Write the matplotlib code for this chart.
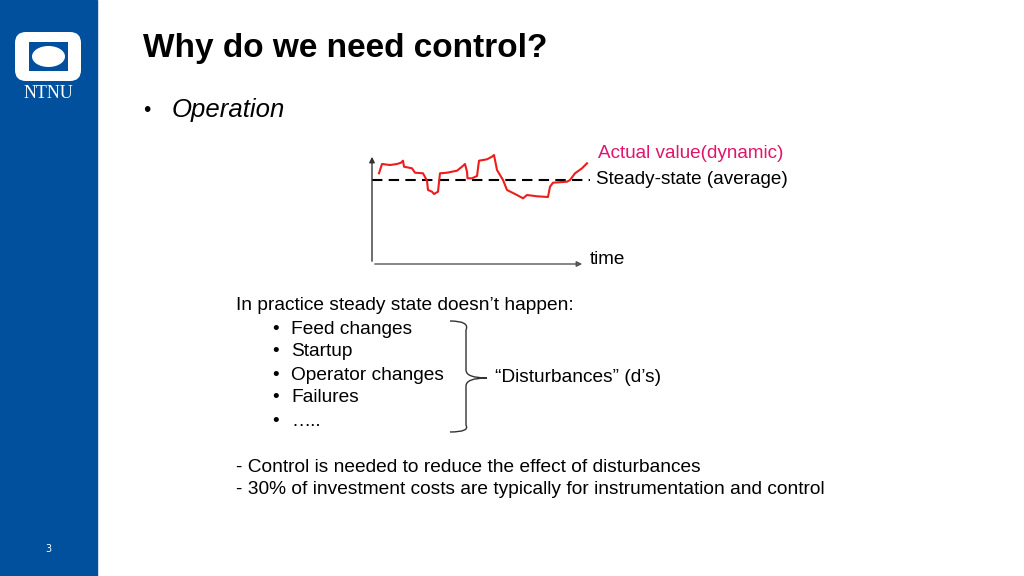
import matplotlib
matplotlib.use("Agg")
import matplotlib.pyplot as plt
from matplotlib.patches import Rectangle, FancyBboxPatch, Ellipse, PathPatch
from matplotlib.path import Path

# chart data (time units, value units)
time = [7, 10, 18, 25, 29, 31, 32, 40, 43, 51, 55, 56, 60, 62, 66, 68, 75, 85, 90, 93, 95,
        95.5, 100, 105, 107, 115, 120, 122, 125, 131, 135, 145, 151, 155, 165, 176, 178,
        181, 195, 198, 203, 210, 215]
actual = [90.7, 100, 99, 100, 101.3, 103.3, 97.3, 95.7, 91.3, 90.7, 83.3, 74, 72.3, 70,
          72.3, 90.7, 91.3, 93.3, 97.3, 100, 92.3, 85.7, 85.7, 88, 103.3, 104.7, 107.3, 109,
          94, 84, 74, 69, 65.7, 69, 67.7, 67, 77.3, 81.3, 82.3, 84, 90.7, 95.7, 100.7]
steady = 84
bullets = ["Feed changes", "Startup", "Operator changes", "Failures", "….."]

W, H = 1024, 576
fig = plt.figure(figsize=(10.24, 5.76), dpi=100)
bg = fig.add_axes([0, 0, 1, 1])
bg.set_xlim(0, W)
bg.set_ylim(H, 0)
bg.axis("off")

# sidebar + logo
blue = "#00509e"
bg.add_patch(Rectangle((0, 0), 97, H, color=blue))
bg.add_patch(FancyBboxPatch((15, 32), 66, 49, boxstyle="round,pad=0,rounding_size=11",
                            fc="white", ec="none"))
bg.add_patch(Rectangle((29, 42), 39, 29, fc=blue, ec="none"))
bg.add_patch(Ellipse((48.5, 56.5), 33, 21, fc="white", ec="none"))
bg.text(48, 93, "NTNU", color="white", fontsize=13, family="Liberation Serif",
        ha="center", va="center")
bg.text(48, 549, "3", color="white", fontsize=7, ha="center", va="center")

sans = "Liberation Sans"
bg.text(143, 49, "Why do we need control?", fontsize=24, fontweight="bold",
        family=sans, va="center")
bg.text(143, 110, "•", fontsize=15, family=sans, va="center")
bg.text(172, 110, "Operation", fontsize=18.5, style="italic", family=sans, va="center")

fs = 13.6
bg.text(598, 154, "Actual value(dynamic)", fontsize=fs, color="#e0156b", family=sans, va="center")
bg.text(596, 180, "Steady-state (average)", fontsize=fs, family=sans, va="center")
bg.text(590, 259, "time", fontsize=fs, family=sans, va="center")

fb = 13.8
bg.text(236, 306, "In practice steady state doesn\u2019t happen:", fontsize=fb, family=sans, va="center")
for i, b in enumerate(bullets):
    y = 329 + i * 23
    bg.text(272, y, "•", fontsize=fb, family=sans, va="center")
    bg.text(291, y, b, fontsize=fb, family=sans, va="center")
bg.text(495, 377, "\u201cDisturbances\u201d (d\u2019s)", fontsize=fb, family=sans, va="center")
bg.text(236, 467, "- Control is needed to reduce the effect of disturbances", fontsize=fb,
        family=sans, va="center")
bg.text(236, 490, "- 30% of investment costs are typically for instrumentation and control",
        fontsize=fb, family=sans, va="center")

# brace
verts = [(450, 321), (470, 321), (466, 330), (466, 370), (466, 378), (487, 378),
         (466, 378), (466, 386), (466, 425), (470, 432), (450, 432)]
codes = [Path.MOVETO, Path.CURVE3, Path.CURVE3, Path.LINETO, Path.CURVE3, Path.CURVE3,
         Path.CURVE3, Path.CURVE3, Path.LINETO, Path.CURVE3, Path.CURVE3]
bg.add_patch(PathPatch(Path(verts, codes), fc="none", ec="#333333", lw=1))

# chart
ax = fig.add_axes([372 / W, 1 - 264 / H, 220 / W, 112 / H])
ax.set_xlim(0, 220)
ax.set_ylim(0, 112)
ax.axis("off")
ax.annotate("", xy=(213, 0), xytext=(0, 0),
            arrowprops=dict(arrowstyle="-|>", color="#555555", lw=1, mutation_scale=8))
ax.annotate("", xy=(0, 110), xytext=(0, 0),
            arrowprops=dict(arrowstyle="-|>", color="#333333", lw=1, mutation_scale=8))
ax.plot([0, 218], [steady, steady], color="black", lw=1.5, dashes=(5, 3))
ax.plot(time, actual, color="#ee1c1c", lw=1.5, clip_on=False)

fig.savefig("out.png", dpi=100)
